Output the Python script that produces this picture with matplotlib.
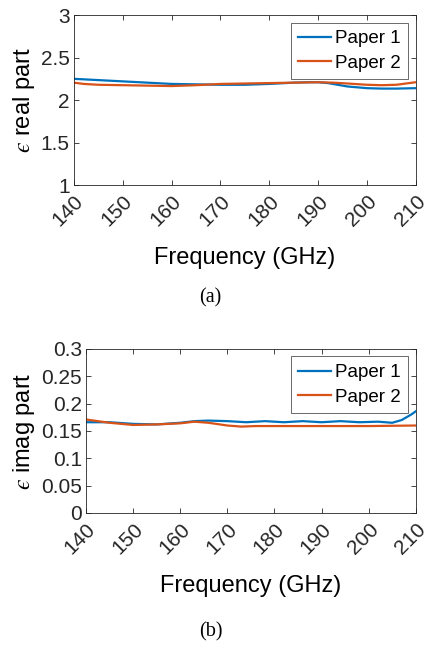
#!/usr/bin/env python3

import matplotlib
matplotlib.use('Agg')
import matplotlib.pyplot as plt

offblack = '#262626'
blue = '#0072BD'
orange = '#D95319'

plt.rcParams.update({
    'font.family': ['Liberation Sans', 'DejaVu Sans'],
    'mathtext.fontset': 'stix',
    'font.size': 15,
    'axes.linewidth': .6,
    'axes.edgecolor': offblack,
    'xtick.color': offblack,
    'ytick.color': offblack,
    'xtick.direction': 'in',
    'ytick.direction': 'in',
    'xtick.top': True,
    'ytick.right': True,
    'xtick.major.size': 3.5,
    'ytick.major.size': 3.5,
    'xtick.major.width': .6,
    'ytick.major.width': .6,
    'lines.linewidth': 1.6,
})

# real part
freq_re = [140, 145, 150, 155, 160, 165, 170, 175, 180, 185, 188, 190, 192,
           194, 196, 198, 200, 203, 206, 210]
paper1_re = [2.25, 2.235, 2.22, 2.205, 2.19, 2.185, 2.18, 2.18, 2.19, 2.205,
             2.21, 2.21, 2.20, 2.18, 2.16, 2.15, 2.14, 2.135, 2.135, 2.14]
freq_re2 = [140, 142, 145, 150, 155, 160, 165, 170, 175, 180, 185, 190, 193,
            196, 200, 203, 206, 210]
paper2_re = [2.205, 2.19, 2.18, 2.175, 2.17, 2.165, 2.175, 2.19, 2.195, 2.20,
             2.205, 2.21, 2.205, 2.195, 2.18, 2.175, 2.18, 2.21]

# imag part
freq_im = [140, 145, 150, 155, 160, 163, 166, 170, 174, 178, 182, 186, 190,
           194, 198, 202, 205, 207, 209, 210]
paper1_im = [0.166, 0.166, 0.163, 0.162, 0.165, 0.168, 0.169, 0.168, 0.166,
             0.168, 0.166, 0.168, 0.166, 0.168, 0.166, 0.167, 0.165, 0.170,
             0.180, 0.186]
freq_im2 = [140, 145, 150, 155, 160, 163, 166, 170, 173, 176, 180, 190, 200,
            210]
paper2_im = [0.171, 0.165, 0.161, 0.162, 0.164, 0.167, 0.165, 0.160, 0.158,
             0.159, 0.159, 0.159, 0.159, 0.160]

xticks = [140, 150, 160, 170, 180, 190, 200, 210]


def style(ax, ylabel, ylim, yticks, yticklabels):
    ax.set_xlim(140, 210)
    ax.set_ylim(*ylim)
    ax.set_xticks(xticks)
    ax.set_xticklabels([str(t) for t in xticks], rotation=45, ha='right',
                       rotation_mode='anchor')
    ax.set_yticks(yticks)
    ax.set_yticklabels(yticklabels)
    ax.set_xlabel('Frequency (GHz)', fontsize=17, labelpad=12)
    ax.set_ylabel(ylabel, fontsize=17, labelpad=3)
    ax.tick_params(axis='x', labelsize=15, pad=5)
    ax.tick_params(axis='y', labelsize=15, pad=3)
    leg = ax.legend(loc='upper right', fontsize=13.5, frameon=True,
                    fancybox=False, handlelength=1.75, handletextpad=0.2,
                    borderpad=0.4, labelspacing=0.4, borderaxespad=0.4)
    leg.get_frame().set_edgecolor(offblack)
    leg.get_frame().set_linewidth(.6)


def main():
    fig = plt.figure(figsize=(4.30, 6.46), dpi=100)

    ax1 = fig.add_axes([0.172, 0.7136, 0.795, 0.263])
    ax1.plot(freq_re, paper1_re, color=blue, label='Paper 1')
    ax1.plot(freq_re2, paper2_re, color=orange, label='Paper 2')
    style(ax1, '$\u03f5$ real part', (1, 3), [1, 1.5, 2, 2.5, 3],
          ['1', '1.5', '2', '2.5', '3'])

    ax2 = fig.add_axes([0.2, 0.2059, 0.767, 0.2539])
    ax2.plot(freq_im, paper1_im, color=blue, label='Paper 1')
    ax2.plot(freq_im2, paper2_im, color=orange, label='Paper 2')
    style(ax2, '$\u03f5$ imag part', (0, 0.3),
          [0, 0.05, 0.1, 0.15, 0.2, 0.25, 0.3],
          ['0', '0.05', '0.1', '0.15', '0.2', '0.25', '0.3'])

    fig.text(0.49, 1 - 298/646, '(a)', ha='center', va='center',
             fontsize=14.5, family='Liberation Serif')
    fig.text(0.49, 1 - 632/646, '(b)', ha='center', va='center',
             fontsize=14.5, family='Liberation Serif')

    fig.savefig('out.png', dpi=100, facecolor='white')


if __name__ == "__main__":
    main()
